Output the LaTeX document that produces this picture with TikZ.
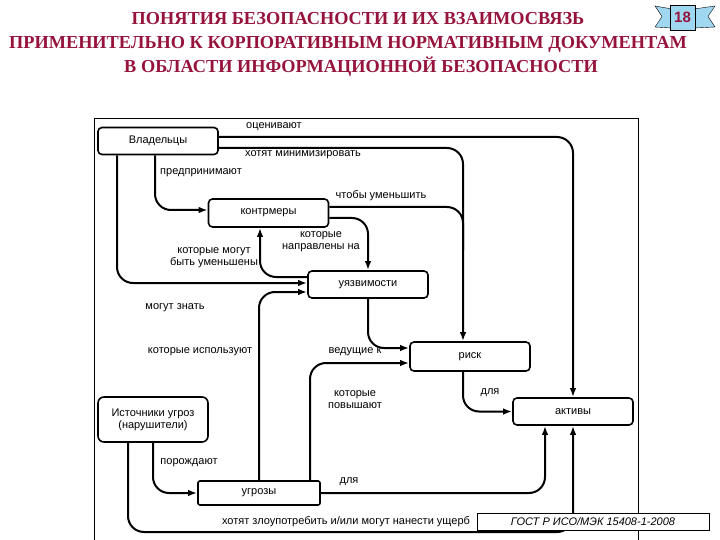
\documentclass[tikz,border=0pt]{standalone}
\usepackage{fontspec}
\setmainfont{Liberation Serif}
\setsansfont{Liberation Sans}
\usepackage[dvipsnames,rgb]{xcolor}
\usepackage{tikz}
\usetikzlibrary{backgrounds}
\usetikzlibrary{arrows,arrows.meta}
\usetikzlibrary{shapes,positioning,calc}
\definecolor{titlered}{RGB}{150,20,60}
\definecolor{ribbon}{RGB}{160,215,240}

\begin{document}
\begin{tikzpicture}[>={Latex[length=9pt,width=6.5pt]}, x=1pt, y=-1pt,
		box/.style={draw, line width=1.6pt, rounded corners=4pt, minimum width=120pt, minimum height=27pt,
			font=\sffamily\fontsize{11}{12}\selectfont, align=center},
		lbl/.style={font=\sffamily\fontsize{11}{12}\selectfont, align=center, inner sep=0pt},
		link/.style={line width=2pt, rounded corners=16pt},
		ttl/.style={font=\bfseries\fontsize{18.3}{20}\selectfont, text=titlered, inner sep=0pt}]
		\useasboundingbox (0,0) rectangle (720,540);
		
		% title and sheet number
		\node[ttl] (t1) at (358,19) {ПОНЯТИЯ БЕЗОПАСНОСТИ И ИХ ВЗАИМОСВЯЗЬ};
		\node[ttl] (t2) at (348,44) {ПРИМЕНИТЕЛЬНО К КОРПОРАТИВНЫМ НОРМАТИВНЫМ ДОКУМЕНТАМ};
		\node[ttl] (t3) at (361,67) {В ОБЛАСТИ ИНФОРМАЦИОННОЙ БЕЗОПАСНОСТИ};
		\draw[fill=ribbon] (655,6) -- (672,9) -- (672,28) -- (655,27) -- (662,16.5) -- cycle;
		\draw[fill=ribbon] (715,6) -- (694,9) -- (694,28) -- (715,27) -- (708,16.5) -- cycle;
		\node[draw, fill=ribbon, minimum width=25pt, minimum height=25pt, inner sep=0pt,
			font=\sffamily\bfseries\fontsize{15}{16}\selectfont, text=titlered] (badge) at (682.5,17.5) {18};
		
		\draw[line width=0.8pt] (94,545) -- (94,118) -- (638,118) -- (638,545);
		
		% boxes
		\node[box] (own) at (158,141) {Владельцы};
		\node[box, minimum height=28pt] (cm) at (268.5,213) {контрмеры};
		\node[box] (vul) at (368,284.5) {уязвимости};
		\node[box, minimum height=29pt] (risk) at (470,356.5) {риск};
		\node[box] (act) at (573,411.5) {активы};
		\node[box, minimum width=110pt, minimum height=45pt, rounded corners=6pt] (src) at (153,419.5) {Источники угроз\\(нарушители)};
		\node[box, minimum width=122pt, minimum height=24pt, rounded corners=2pt] (thr) at (259,493) {угрозы};
		
		% links
		\draw[link,->] ([yshift=4pt]own.east) -| (act.north);
		\draw[link,->] ([yshift=-7pt]own.east) -| ([xshift=-7pt]risk.north);
		\coordinate (mrg) at (463,250);
		\draw[link] ([yshift=6pt]cm.east) -| (mrg);
		\draw[link,->] ([yshift=-5pt]cm.east) -| (vul.north);
		\draw[link,->] ([yshift=7.5pt]vul.west) -| ([xshift=-8.5pt]cm.south);
		\draw[link,->] ([xshift=-41pt]own.south) |- ([yshift=1.5pt]vul.west);
		\draw[link,->] ([xshift=-3pt]own.south) |- ([yshift=3pt]cm.west);
		\draw[link,->] (thr.north) |- ([yshift=-7.5pt]vul.west);
		\draw[link,->] (vul.south) |- ([yshift=8.5pt]risk.west);
		\draw[link,->] ([xshift=51pt]thr.north) |- ([yshift=-6.5pt]risk.west);
		\draw[link,->] ([xshift=-7pt]risk.south) |- (act.west);
		\draw[link,->] (thr.east) -| ([xshift=-28pt]act.south);
		\draw[link,->] (src.south) |- (thr.west);
		\coordinate (bot) at (300,532);
		\draw[link,->] ([xshift=-25pt]src.south) |- (bot) -| (act.south);
		
		% link labels
		\node[lbl] (l1) at (274,127) {оценивают};
		\node[lbl] (l2) at (303,155) {хотят минимизировать};
		\node[lbl] (l3) at (201,173) {предпринимают};
		\node[lbl] (l4) at (381,196) {чтобы уменьшить};
		\node[lbl] (l5) at (321,242) {которые\\направлены на};
		\node[lbl] (l6) at (214,258) {которые могут\\быть уменьшены};
		\node[lbl] (l7) at (175,308) {могут знать};
		\node[lbl] (l8) at (200,352) {которые используют};
		\node[lbl] (l9) at (355,352) {ведущие к};
		\node[lbl] (l10) at (355,400) {которые\\повышают};
		\node[lbl] (l11) at (490,393) {для};
		\node[lbl] (l12) at (189,463) {порождают};
		\node[lbl] (l13) at (349,482) {для};
		\node[lbl] (l14) at (346,522) {хотят злоупотребить и/или могут нанести ущерб};
		
		\node[draw, line width=0.5pt, fill=white, minimum width=232pt, minimum height=17pt, inner sep=0pt,
			font=\sffamily\itshape\fontsize{11}{12}\selectfont] (gost) at (593,521.5) {ГОСТ Р ИСО/МЭК 15408-1-2008};
	\end{tikzpicture}
\end{document}
